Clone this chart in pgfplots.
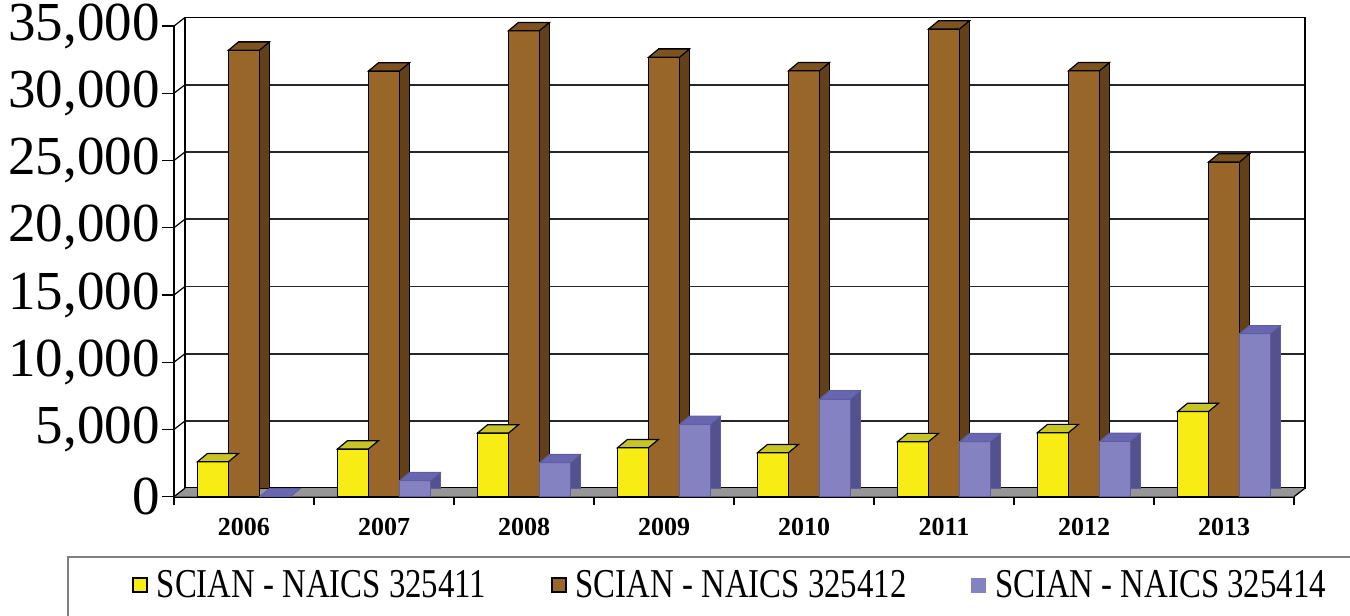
\documentclass[border=0pt]{standalone}
\usepackage{fontspec}
\setmainfont{Liberation Serif}
\newfontfamily\legfontfam{Liberation Serif}[FakeStretch=0.8]
\usepackage{pgfplots}
\usepackage{pgfplotstable}
\pgfplotsset{compat=1.18}
\definecolor{yellowF}{RGB}{247,236,20}
\definecolor{yellowT}{RGB}{200,196,40}
\definecolor{yellowS}{RGB}{170,165,20}
\definecolor{brownF}{RGB}{153,102,42}
\definecolor{brownT}{RGB}{125,84,32}
\definecolor{brownS}{RGB}{98,64,25}
\definecolor{purpleF}{RGB}{132,130,192}
\definecolor{purpleT}{RGB}{104,102,176}
\definecolor{purpleS}{RGB}{84,82,142}
\definecolor{purpleE}{RGB}{95,93,160}
\definecolor{floorG}{RGB}{150,150,150}
\definecolor{frameG}{RGB}{128,128,128}
\newcommand\ytfont{\fontsize{27.5}{30}\selectfont}
\newcommand\xtfont{\bfseries\fontsize{13}{15}\selectfont}
\newcommand\legfont{\legfontfam\fontsize{20.5}{22}\selectfont}
% top faces of the bars (parallelograms), offsets in pt
\pgfdeclareplotmark{topY}{%
 \pgfpathmoveto{\pgfpoint{-23.25pt}{0pt}}\pgfpathlineto{\pgfpoint{-7.75pt}{0pt}}%
 \pgfpathlineto{\pgfpoint{-2.75pt}{4.15pt}}\pgfpathlineto{\pgfpoint{-18.25pt}{4.15pt}}%
 \pgfpathclose\pgfusepathqfillstroke}
\pgfdeclareplotmark{topB}{%
 \pgfpathmoveto{\pgfpoint{-7.75pt}{0pt}}\pgfpathlineto{\pgfpoint{7.75pt}{0pt}}%
 \pgfpathlineto{\pgfpoint{12.75pt}{4.15pt}}\pgfpathlineto{\pgfpoint{-2.75pt}{4.15pt}}%
 \pgfpathclose\pgfusepathqfillstroke}
\pgfdeclareplotmark{topP}{%
 \pgfpathmoveto{\pgfpoint{7.75pt}{0pt}}\pgfpathlineto{\pgfpoint{23.25pt}{0pt}}%
 \pgfpathlineto{\pgfpoint{28.25pt}{4.15pt}}\pgfpathlineto{\pgfpoint{12.75pt}{4.15pt}}%
 \pgfpathclose\pgfusepathqfillstroke}
\pgfplotstableread{
x y1 y2 y3
0 2600 33200 0
1 3550 31650 1190
2 4730 34650 2530
3 3640 32670 5380
4 3270 31670 7260
5 4090 34770 4090
6 4760 31670 4110
7 6330 24880 12120
}\data
\begin{document}
\begin{tikzpicture}
% back wall
\begin{axis}[at={(92.5pt,63.9pt)}, anchor=south west, scale only axis,
  width=560pt, height=235.35pt, xmin=-0.5, xmax=7.5, ymin=0, ymax=35000,
  xtick=\empty, ytick={0,5000,10000,15000,20000,25000,30000,35000}, yticklabels={}, ymajorgrids,
  scaled y ticks=false,
  major tick length=0pt, axis line style={black, line width=0.8pt},
  grid style={black!85, line width=0.8pt}]
\addplot[draw=none] coordinates {(0,0)};
\end{axis}
% front
\begin{axis}[at={(87pt,59.65pt)}, anchor=south west, scale only axis,
  width=560pt, height=235.35pt, xmin=-0.5, xmax=7.5, ymin=0, ymax=35000,
  axis x line=bottom, axis y line=left,
  axis line style={-, black, line width=0.8pt},
  xtick={0,1,2,3,4,5,6,7}, xticklabels={2006,2007,2008,2009,2010,2011,2012,2013},
  minor xtick={-0.5,0.5,1.5,2.5,3.5,4.5,5.5,6.5,7.5},
  ytick={0,5000,10000,15000,20000,25000,30000,35000},
  tick align=outside, major tick length=6pt, minor tick length=4pt,
  major x tick style={draw=none},
  minor x tick style={black, line width=0.6pt},
  y tick style={black, line width=0.6pt},
  scaled y ticks=false,
  /pgf/number format/assume math mode=true,
  yticklabel style={font=\ytfont, inner xsep=1pt},
  xticklabel style={font=\xtfont, yshift=-1pt},
  clip=false,
  legend style={at={(-0.0375,-0.1876)}, anchor=west, draw=none, fill=none,
    legend columns=3, font=\legfont, inner sep=0pt,
    /tikz/every odd column/.append style={column sep=4.5pt},
    /tikz/every even column/.append style={column sep=32.5pt},
    nodes={inner sep=0pt}},
  ]
% floor
\fill[floorG] (axis cs:-0.5,0) -- (axis cs:7.5,0) -- ([shift={(5.5pt,4.25pt)}]axis cs:7.5,0) -- ([shift={(5.5pt,4.25pt)}]axis cs:-0.5,0) -- cycle;
\draw[black, line width=0.6pt] (axis cs:7.5,0) -- ([shift={(5.5pt,4.25pt)}]axis cs:7.5,0);
% left wall
\pgfplotsinvokeforeach{0,5000,10000,15000,20000,25000,30000,35000}{
  \draw[black, line width=0.6pt] (axis cs:-0.5,#1) -- ++(5.5pt,4.25pt);
}
% yellow
\addplot[ybar, bar width=15.5pt, bar shift=-10.5pt, yshift=4.15pt, fill=yellowS, draw=black, line width=0.6pt, forget plot] table[x=x,y=y1]{\data};
\addplot[ybar, bar width=15.5pt, bar shift=-15.5pt, fill=yellowF, draw=black, line width=0.6pt,
  legend image code/.code={\draw[fill=yellowF, draw=black, line width=0.7pt] (0pt,-3.5pt) rectangle (7pt,3.5pt);}] table[x=x,y=y1]{\data};
\addlegendentry{SCIAN - NAICS 325411}
\addplot[only marks, mark=topY, mark options={fill=yellowT, draw=black, line width=0.6pt}, forget plot] table[x=x,y=y1]{\data};
% brown
\addplot[ybar, bar width=15.5pt, bar shift=5pt, yshift=4.15pt, fill=brownS, draw=black, line width=0.6pt, forget plot] table[x=x,y=y2]{\data};
\addplot[ybar, bar width=15.5pt, bar shift=0pt, fill=brownF, draw=black, line width=0.6pt,
  legend image code/.code={\draw[fill=brownF, draw=black, line width=0.7pt] (0pt,-3.5pt) rectangle (7pt,3.5pt);}] table[x=x,y=y2]{\data};
\addlegendentry{SCIAN - NAICS 325412}
\addplot[only marks, mark=topB, mark options={fill=brownT, draw=black, line width=0.6pt}, forget plot] table[x=x,y=y2]{\data};
% purple
\addplot[ybar, bar width=15.5pt, bar shift=20.5pt, yshift=4.15pt, fill=purpleS, draw=purpleE, line width=0.4pt, forget plot] table[x=x,y=y3]{\data};
\addplot[ybar, bar width=15.5pt, bar shift=15.5pt, fill=purpleF, draw=purpleE, line width=0.4pt,
  legend image code/.code={\fill[purpleF] (0pt,-3.5pt) rectangle (7pt,3.5pt);}] table[x=x,y=y3]{\data};
\addlegendentry{SCIAN - NAICS 325414}
\addplot[only marks, mark=topP, mark options={fill=purpleT, draw=purpleE, line width=0.4pt}, forget plot] table[x=x,y=y3]{\data};
\end{axis}
\draw[frameG, line width=1pt] (34pt,-5pt) -- (34pt,29.5pt) -- (690pt,29.5pt);
\pgfresetboundingbox
\path[use as bounding box] (0,0) rectangle (675pt,308pt);
\end{tikzpicture}
\end{document}
